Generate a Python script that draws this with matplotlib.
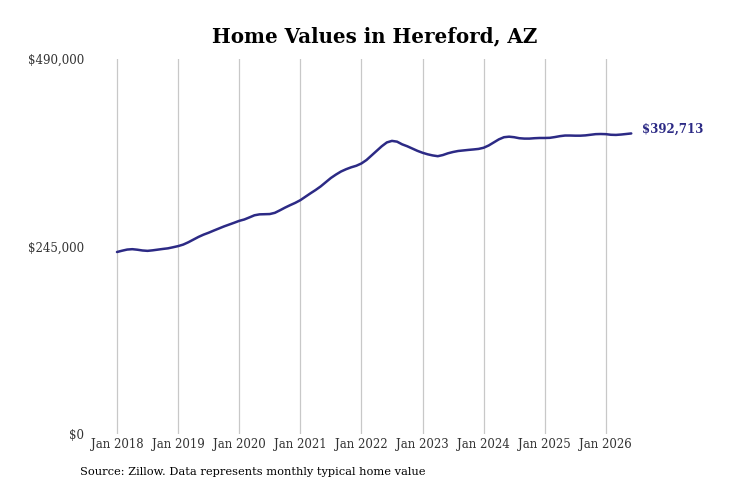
import numpy as np
import matplotlib
matplotlib.use("Agg")
import matplotlib.pyplot as plt

""" Monthly typical home value (Zillow), Jan 2018 .. Jun 2026, read off the chart """
START_YEAR = 2018
VALUES_K = [
    # 2018
    237.8, 239.5, 241.0, 241.5, 240.8, 239.8, 239.3, 240.0, 240.9, 241.8, 242.6, 244.0,
    # 2019
    245.5, 247.5, 250.5, 254.0, 257.5, 260.5, 263.0, 265.8, 268.5, 271.2, 273.6, 276.0,
    # 2020
    278.5, 280.3, 283.0, 285.8, 287.0, 287.2, 287.4, 289.0, 292.3, 295.8, 299.0, 302.0,
    # 2021
    305.5, 310.0, 314.5, 318.8, 323.5, 329.0, 334.5, 339.0, 343.0, 346.0, 348.5, 350.5,
    # 2022
    353.5, 358.0, 364.0, 370.0, 376.0, 381.0, 383.0, 382.0, 378.5, 376.0, 373.0, 370.0,
    # 2023
    367.5, 365.5, 364.0, 363.0, 364.5, 366.8, 368.5, 369.8, 370.5, 371.2, 371.8, 372.5,
    # 2024
    374.0, 377.0, 381.0, 385.0, 387.8, 388.5, 387.8, 386.5, 386.0, 386.0, 386.5, 386.8,
    # 2025
    386.8, 387.0, 388.0, 389.2, 390.0, 390.0, 389.8, 389.8, 390.2, 391.0, 391.8, 392.0,
    # 2026
    391.8, 391.0, 390.8, 391.3, 392.0, 392.713,
]
TICK_YEARS = list(range(2018, 2027))
TICK_LABELS = [f"Jan {y}" for y in TICK_YEARS]
Y_TICKS = [0, 245000, 490000]
Y_LABELS = ["$0", "$245,000", "$490,000"]
END_LABEL = "$392,713"

LINE_COLOUR = "#2c2a85"

values = np.array(VALUES_K) * 1000
x = START_YEAR + np.arange(len(values)) / 12.0

W, H = 731, 487
fig = plt.figure(figsize=(W / 100, H / 100), dpi=100)
# axes placed in pixel coords: left 95, right 700, top 59, bottom 434
ax = fig.add_axes([95 / W, 1 - 434 / H, 605 / W, 375 / H])

ax.plot(x, values, color=LINE_COLOUR, lw=1.8, solid_capstyle="round", zorder=3)

ax.set_xlim(2018 - 22 / 61.1, 2018 + 583 / 61.1)
ax.set_ylim(0, 490000)
ax.set_xticks(TICK_YEARS)
ax.set_xticklabels(TICK_LABELS)
ax.set_yticks(Y_TICKS)
ax.set_yticklabels(Y_LABELS)

for s in ax.spines.values():
    s.set_visible(False)
ax.grid(True, axis="x", color="#c8c8c8", lw=0.9)
ax.grid(False, axis="y")
ax.tick_params(axis="both", length=0, labelsize=8.5, labelcolor="#333333",
               labelfontfamily="DejaVu Serif")
ax.tick_params(axis="x", pad=3)
ax.tick_params(axis="y", pad=8)

ax.annotate(END_LABEL, (x[-1], values[-1]), xytext=(8, 3),
            textcoords="offset points", va="center", ha="left",
            color=LINE_COLOUR, fontsize=8.5, fontweight="bold",
            family="DejaVu Serif")

fig.text(375 / W, 1 - 36 / H, "Home Values in Hereford, AZ",
         ha="center", va="center", fontsize=14.3, fontweight="bold",
         family="DejaVu Serif")
fig.text(80 / W, 1 - 472 / H, "Source: Zillow. Data represents monthly typical home value",
         ha="left", va="center", fontsize=8.2, family="DejaVu Serif")

fig.savefig("out.png", dpi=100)
